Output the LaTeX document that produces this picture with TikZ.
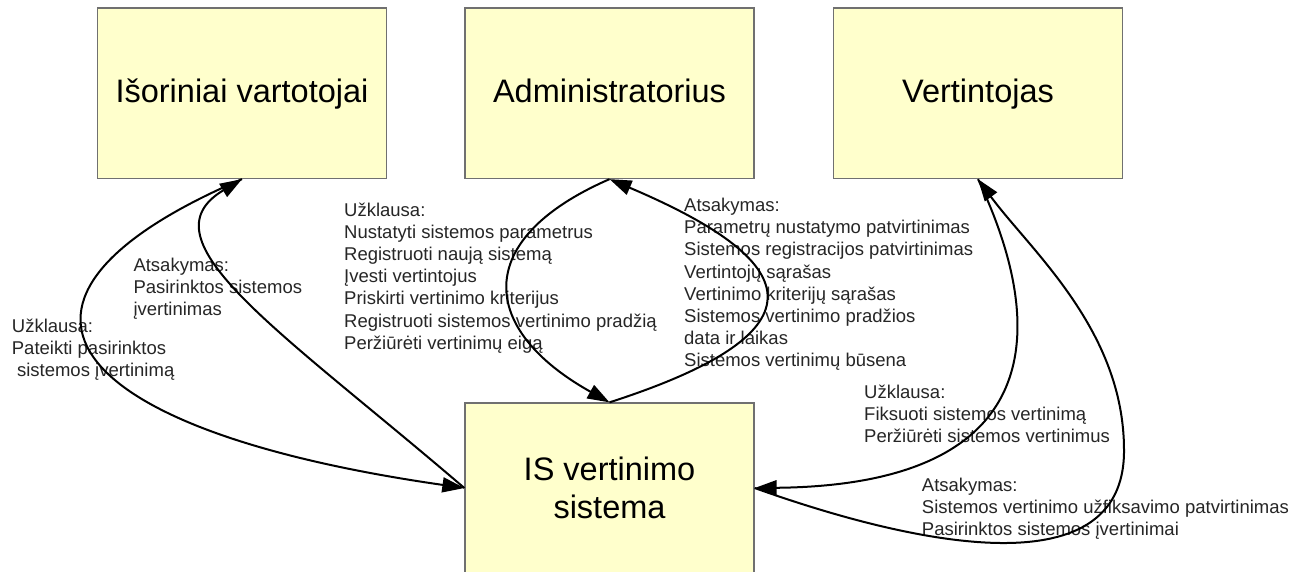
\documentclass[tikz,border=0pt]{standalone}
\usepackage{fontspec}
\setmainfont{Liberation Sans}
\usetikzlibrary{arrows.meta}
\definecolor{boxfill}{HTML}{FFFFCC}
\definecolor{boxline}{HTML}{707070}
\definecolor{labeltext}{HTML}{262626}
\tikzset{
  entity/.style={draw=boxline, line width=1.3pt, fill=boxfill,
    minimum width=289pt, minimum height=170.5pt, inner sep=0pt,
    font=\fontsize{32.5}{38.4}\selectfont, align=center, text=black},
  oneline/.style={text height=24pt, text depth=6.5pt},
  flow/.style={line width=2pt, -{Triangle[length=22pt,width=15pt]}},
  msg/.style={anchor=base west, inner sep=0pt, text=labeltext,
    font=\fontsize{18.5}{22.1}\selectfont},
}
\newcommand{\lines}[1]{\begin{tabular}[t]{@{}l@{}}#1\end{tabular}}
\begin{document}
\begin{tikzpicture}[x=1pt,y=-1pt]
\clip (0,0) rectangle (1300,571);
\fill[white] (0,0) rectangle (1300,571);

% the four participants
\node[entity, oneline] (users) at (242,93.25) {Išoriniai vartotojai};
\node[entity, oneline] (admin) at (609.5,93.25) {Administratorius};
\node[entity, oneline] (rater) at (978,93.25) {Vertintojas};
\node[entity, minimum height=170pt] (is) at (609.5,488) {IS vertinimo\\sistema};

% message texts
\node[msg] (q1) at (11.7,332.3) {\lines{Užklausa:\\Pateikti pasirinktos\\ \ sistemos įvertinimą}};
\node[msg] (a1) at (133.3,271.7) {\lines{Atsakymas:\\Pasirinktos sistemos\\įvertinimas}};
\node[msg] (q2) at (344,216.5) {\lines{Užklausa:\\Nustatyti sistemos parametrus\\Registruoti naują sistemą\\Įvesti vertintojus\\Priskirti vertinimo kriterijus\\Registruoti sistemos vertinimo pradžią\\Peržiūrėti vertinimų eigą}};
\node[msg] (a2) at (684,211.7) {\lines{Atsakymas:\\Parametrų nustatymo patvirtinimas\\Sistemos registracijos patvirtinimas\\Vertintojų sąrašas\\Vertinimo kriterijų sąrašas\\Sistemos vertinimo pradžios\\data ir laikas\\Sistemos vertinimų būsena}};
\node[msg] (q3) at (864,398.3) {\lines{Užklausa:\\Fiksuoti sistemos vertinimą\\Peržiūrėti sistemos vertinimus}};
\node[msg] (a3) at (921.7,491.7) {\lines{Atsakymas:\\Sistemos vertinimo užfiksavimo patvirtinimas\\Pasirinktos sistemos įvertinimai}};

% external users
\draw[flow] (users.south) .. controls (-40,300) and (60,430) .. (is.west);
\draw[flow] (is.west) .. controls (280,330) and (140,240) .. (users.south);

% administrator
\draw[flow] (admin.south) .. controls (470,240) and (480,330) .. (is.north);
\draw[flow] (is.north) .. controls (834,330) and (800,260) .. (admin.south);

% rater
\coordinate (loop) at (1124,450);
\draw[flow] (rater.south) .. controls (1045,320) and (1055,485) .. (is.east);
\draw[flow] (is.east) .. controls (900,540) and (1125,595) .. (loop)
  .. controls (1124,330) and (1030,250) .. (rater.south);
\end{tikzpicture}
\end{document}
